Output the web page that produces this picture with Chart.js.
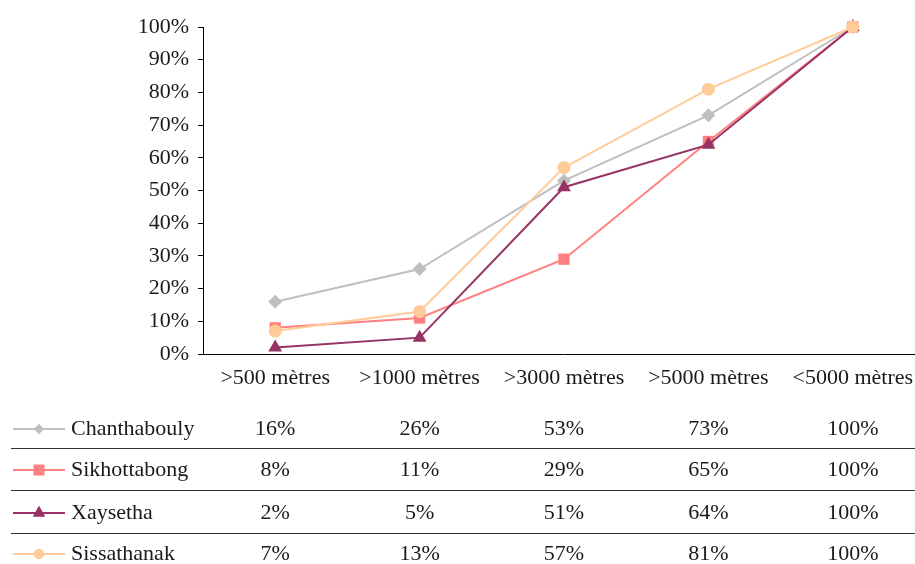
<!DOCTYPE html>
<html>
<head>
<meta charset="utf-8">
<script src="https://cdn.jsdelivr.net/npm/chart.js@4/dist/chart.umd.min.js"></script>
<style>
html,body{margin:0;padding:0;background:#fff;overflow:hidden;}
#wrap{width:915px;height:564px;position:relative;overflow:hidden;}
canvas{display:block;}
</style>
</head>
<body>
<div id="wrap"><canvas id="c" width="933" height="564"></canvas></div>
<script>
const categories = ['>500 mètres', '>1000 mètres', '>3000 mètres', '>5000 mètres', '<5000 mètres'];
const seriesNames = ['Chanthabouly', 'Sikhottabong', 'Xaysetha', 'Sissathanak'];
const chanthabouly = [16, 26, 53, 73, 100];
const sikhottabong = [8, 11, 29, 65, 100];
const xaysetha = [2, 5, 51, 64, 100];
const sissathanak = [7, 13, 57, 81, 100];
const yTicks = [0, 10, 20, 30, 40, 50, 60, 70, 80, 90, 100];

const seriesValues = [chanthabouly, sikhottabong, xaysetha, sissathanak];
const colors = ['#BFBFBF', '#FF8080', '#963264', '#FFCC99'];
const styles = ['rectRot', 'rect', 'triangle', 'circle'];
const radii = [7, 8, 8, 6.5];
const legendRadii = [5, 7.5, 7, 5];
const FONT = '"Liberation Serif", "DejaVu Serif", serif';
const FS = 22;
const TEXT = '#1a1a1a';

const tablePlugin = {
  id: 'dataTable',
  afterDraw(chart) {
    const ctx = chart.ctx;
    const xs = chart.scales.x;
    const rowY = [429, 470, 513, 554];
    const sepY = [448.5, 490.5, 533.5];
    ctx.save();
    ctx.strokeStyle = '#333333';
    ctx.lineWidth = 1;
    sepY.forEach(y => {
      ctx.beginPath();
      ctx.moveTo(11, y);
      ctx.lineTo(933, y);
      ctx.stroke();
    });
    ctx.font = FS + 'px ' + FONT;
    ctx.textBaseline = 'middle';
    seriesNames.forEach((name, r) => {
      const y = rowY[r];
      ctx.strokeStyle = colors[r];
      ctx.lineWidth = 2;
      ctx.beginPath();
      ctx.moveTo(13, y);
      ctx.lineTo(65, y);
      ctx.stroke();
      ctx.fillStyle = colors[r];
      Chart.helpers.drawPoint(ctx, {pointStyle: styles[r], radius: legendRadii[r], borderWidth: 0}, 39, y);
      ctx.fill();
      ctx.fillStyle = TEXT;
      ctx.textAlign = 'left';
      ctx.fillText(name, 71, y);
      ctx.textAlign = 'center';
      seriesValues[r].forEach((v, i) => {
        ctx.fillText(v + '%', xs.getPixelForValue(i), y);
      });
    });
    ctx.restore();
  }
};

const datasets = seriesNames.map((name, i) => ({
  label: name,
  data: seriesValues[i],
  borderColor: colors[i],
  backgroundColor: colors[i],
  borderWidth: 2,
  pointStyle: styles[i],
  pointRadius: radii[i],
  pointHoverRadius: radii[i],
  pointBorderWidth: 0,
  tension: 0,
  clip: false,
  order: seriesNames.length - i
}));

new Chart(document.getElementById('c'), {
  type: 'line',
  data: { labels: categories, datasets },
  options: {
    responsive: false,
    animation: false,
    devicePixelRatio: 1,
    layout: { padding: { left: 0, right: 0, top: 27, bottom: 170 } },
    plugins: { legend: { display: false }, tooltip: { enabled: false } },
    scales: {
      x: {
        offset: true,
        grid: { display: false, drawTicks: false },
        border: { display: true, color: '#000', width: 1 },
        ticks: { color: TEXT, font: { family: FONT, size: FS }, padding: 11, maxRotation: 0, autoSkip: false },
        afterFit: s => { s.height = 40; }
      },
      y: {
        min: 0, max: 100,
        afterBuildTicks: s => { s.ticks = yTicks.map(v => ({ value: v })); },
        grid: { display: true, drawOnChartArea: false, drawTicks: true, tickLength: 5, color: '#000' },
        border: { display: true, color: '#000', width: 1 },
        ticks: { color: TEXT, font: { family: FONT, size: FS }, padding: 9, callback: v => v + '%' },
        afterFit: s => { s.width = 203; }
      }
    }
  },
  plugins: [tablePlugin]
});
</script>
</body>
</html>
